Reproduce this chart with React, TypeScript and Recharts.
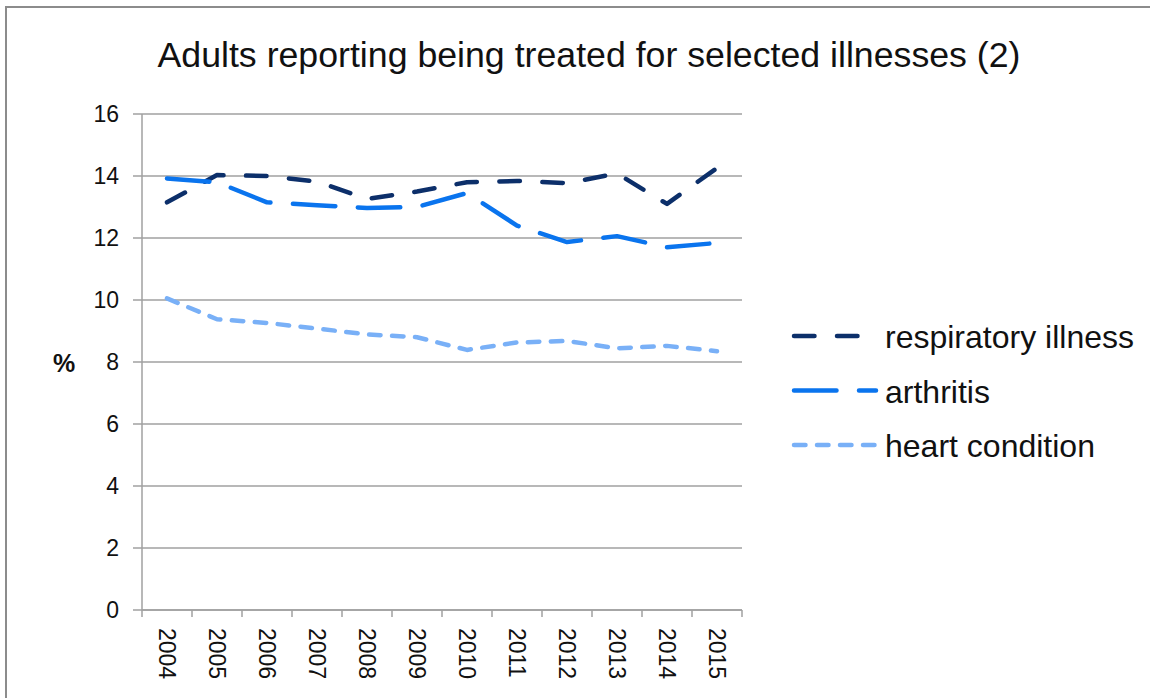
import React from 'react';
import { LineChart, Line, XAxis, YAxis, CartesianGrid, Legend } from 'recharts';

const years = ['2004', '2005', '2006', '2007', '2008', '2009', '2010', '2011', '2012', '2013', '2014', '2015'];
const respiratory = [13.15, 14.03, 14.0, 13.82, 13.26, 13.5, 13.8, 13.84, 13.77, 14.08, 13.1, 14.26];
const arthritis = [13.92, 13.8, 13.15, 13.06, 12.97, 13.0, 13.45, 12.4, 11.87, 12.06, 11.7, 11.84];
const heart = [10.05, 9.38, 9.26, 9.08, 8.89, 8.8, 8.39, 8.63, 8.68, 8.44, 8.52, 8.35];
const yTicks = [0, 2, 4, 6, 8, 10, 12, 14, 16];

const title = 'Adults reporting being treated for selected illnesses (2)';
const yLabel = '%';

const FONT = '"Liberation Sans", Arial, sans-serif';
const GRID = '#a0a0a0';
const TEXT = '#111';

const series = [
  { key: 'respiratory', name: 'respiratory illness', color: '#0c2f6a', dash: '20.5 22.5' },
  { key: 'arthritis', name: 'arthritis', color: '#0a74ee', dash: '42.5 22.5' },
  { key: 'heart', name: 'heart condition', color: '#79b0f7', dash: '11.5 11.5' },
];

const data = years.map((year, i) => ({
  year,
  respiratory: respiratory[i],
  arthritis: arthritis[i],
  heart: heart[i],
}));

function XTick(props: any) {
  const { x, y, payload, index } = props;
  const half = payload && typeof payload.offset === 'number' && payload.offset > 0 ? payload.offset : 25;
  const last = index === years.length - 1;
  const ty = y + 18;
  return (
    <g>
      <line x1={x - half} y1={y} x2={x - half} y2={y + 7} stroke={GRID} strokeWidth={1.5} />
      {last && <line x1={x + half} y1={y} x2={x + half} y2={y + 7} stroke={GRID} strokeWidth={1.5} />}
      <text
        x={x}
        y={ty}
        transform={`rotate(90 ${x} ${ty})`}
        textAnchor="start"
        dominantBaseline="central"
        fontSize={23}
        fill={TEXT}
        fontFamily={FONT}
      >
        {payload.value}
      </text>
    </g>
  );
}

function LegendContent() {
  const rowY = [31, 85.5, 140];
  return (
    <svg width={370} height={170} style={{ overflow: 'visible' }}>
      {series.map((s, i) => (
        <g key={s.key}>
          <line
            x1={14}
            y1={rowY[i]}
            x2={96}
            y2={rowY[i]}
            stroke={s.color}
            strokeWidth={4.5}
            strokeDasharray={s.dash}
            strokeLinecap="round"
          />
          <text
            x={105}
            y={rowY[i] + 1}
            dominantBaseline="central"
            fontSize={32}
            fill={TEXT}
            fontFamily={FONT}
          >
            {s.name}
          </text>
        </g>
      ))}
    </svg>
  );
}

export default function App() {
  return (
    <div
      style={{
        position: 'absolute',
        left: 0,
        top: 0,
        width: 1150,
        height: 698,
        overflow: 'hidden',
        background: '#fff',
        fontFamily: FONT,
      }}
    >
      <div
        style={{
          position: 'absolute',
          left: 5,
          top: 6,
          width: 1300,
          height: 900,
          border: '2px solid #8c8c8c',
          boxSizing: 'border-box',
        }}
      />
      <LineChart
        width={1150}
        height={698}
        data={data}
        margin={{ top: 114, right: 408, bottom: 0, left: 0 }}
      >
        <CartesianGrid horizontal vertical={false} stroke={GRID} strokeWidth={1.5} />
        <XAxis
          dataKey="year"
          scale="band"
          height={88}
          interval={0}
          tickSize={0}
          tickMargin={0}
          tickLine={false}
          axisLine={{ stroke: GRID, strokeWidth: 1.5 }}
          tick={<XTick />}
        />
        <YAxis
          width={142}
          domain={[0, 16]}
          ticks={yTicks}
          interval={0}
          tickSize={9}
          tickMargin={14}
          axisLine={{ stroke: GRID, strokeWidth: 1.5 }}
          tickLine={{ stroke: GRID, strokeWidth: 1.5 }}
          tick={{ fontSize: 23, fill: TEXT, fontFamily: FONT }}
        />
        <Legend
          layout="vertical"
          align="center"
          verticalAlign="middle"
          wrapperStyle={{ left: 780, top: 305, width: 370, height: 170 }}
          content={<LegendContent />}
        />
        {series.map((s) => (
          <Line
            key={s.key}
            type="linear"
            dataKey={s.key}
            name={s.name}
            stroke={s.color}
            strokeWidth={4.5}
            strokeDasharray={s.dash}
            strokeLinecap="round"
            strokeLinejoin="round"
            dot={false}
            activeDot={false}
            isAnimationActive={false}
          />
        ))}
      </LineChart>
      <svg
        width={1150}
        height={698}
        style={{ position: 'absolute', left: 0, top: 0, pointerEvents: 'none' }}
      >
        <text x={589} y={67} textAnchor="middle" fontSize={35.7} fill={TEXT} fontFamily={FONT}>
          {title}
        </text>
        <text
          x={64}
          y={363}
          textAnchor="middle"
          dominantBaseline="central"
          fontSize={25}
          fontWeight="bold"
          fill={TEXT}
          fontFamily={FONT}
        >
          {yLabel}
        </text>
      </svg>
    </div>
  );
}
